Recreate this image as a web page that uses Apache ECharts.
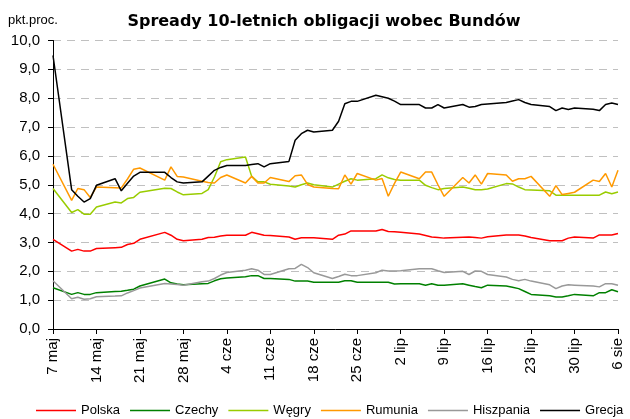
<!DOCTYPE html>
<html lang="pl">
<head>
    <meta charset="UTF-8">
    <title>Spready 10-letnich obligacji wobec Bundów</title>
    <script src="https://cdn.jsdelivr.net/npm/echarts@6/dist/echarts.min.js"></script>
    <style type="text/css">
        body{
            margin: 0px;
            padding: 0px;
            background: #fff;
        }
        #chart{
            width: 630px;
            height: 419px;
        }
    </style>
</head>
<body>
<div id="chart"></div>
<script type="text/javascript">
    // miesiace do podpisow osi (dni kalendarzowe od 7 maja)
    var monthNames = ['sty', 'lut', 'mar', 'kwi', 'maj', 'cze', 'lip', 'sie', 'wrz', 'paź', 'lis', 'gru'];
    var startDate = [2012, 4, 7];
    var dayCount = 92;

    // dni notowan (numer dnia od 7 maja)
    var days = [0, 3, 4, 5, 6, 7, 10, 11, 12, 13, 14, 18, 19, 20, 21, 24, 25, 26, 27, 28,
        31, 32, 33, 34, 35, 38, 39, 40, 41, 42, 45, 46, 47, 48, 49, 52, 53, 54, 55, 56,
        59, 60, 61, 62, 63, 66, 67, 68, 69, 70, 73, 74, 75, 76, 77, 80, 81, 82, 83, 84,
        87, 88, 89, 90, 91];

    var polska = [3.11, 2.70, 2.76, 2.70, 2.70, 2.79, 2.82, 2.83, 2.93, 2.97, 3.11, 3.35, 3.25, 3.11, 3.06, 3.11, 3.17, 3.18, 3.22, 3.25,
        3.25, 3.35, 3.30, 3.25, 3.24, 3.19, 3.11, 3.16, 3.16, 3.16, 3.11, 3.25, 3.29, 3.40, 3.40, 3.40, 3.45, 3.38, 3.37, 3.35,
        3.29, 3.24, 3.19, 3.17, 3.15, 3.18, 3.19, 3.17, 3.15, 3.20, 3.26, 3.26, 3.26, 3.22, 3.17, 3.06, 3.06, 3.06, 3.15, 3.19,
        3.15, 3.26, 3.26, 3.26, 3.31];
    var czechy = [1.43, 1.20, 1.26, 1.20, 1.20, 1.26, 1.30, 1.31, 1.34, 1.38, 1.49, 1.73, 1.60, 1.56, 1.53, 1.57, 1.58, 1.67, 1.74, 1.77,
        1.81, 1.85, 1.85, 1.75, 1.75, 1.72, 1.66, 1.66, 1.66, 1.62, 1.62, 1.62, 1.67, 1.67, 1.62, 1.62, 1.62, 1.62, 1.56, 1.57,
        1.57, 1.52, 1.57, 1.52, 1.52, 1.57, 1.52, 1.47, 1.43, 1.52, 1.49, 1.45, 1.40, 1.30, 1.20, 1.15, 1.11, 1.11, 1.15, 1.20,
        1.15, 1.26, 1.26, 1.36, 1.29];
    var wegry = [4.87, 4.04, 4.14, 3.98, 3.98, 4.23, 4.40, 4.37, 4.52, 4.56, 4.74, 4.88, 4.87, 4.75, 4.65, 4.70, 4.83, 5.27, 5.80, 5.87,
        5.96, 5.29, 5.10, 5.10, 5.02, 4.96, 4.92, 5.00, 5.06, 5.00, 4.92, 5.02, 5.12, 5.21, 5.16, 5.21, 5.34, 5.24, 5.18, 5.16,
        5.16, 4.98, 4.90, 4.83, 4.87, 4.92, 4.88, 4.83, 4.83, 4.85, 5.04, 5.03, 4.92, 4.83, 4.82, 4.79, 4.64, 4.64, 4.64, 4.64,
        4.64, 4.64, 4.75, 4.69, 4.75];
    var rumunia = [5.71, 4.46, 4.87, 4.83, 4.56, 4.92, 4.90, 4.89, 5.20, 5.54, 5.58, 5.16, 5.62, 5.29, 5.27, 5.12, 5.08, 5.06, 5.25, 5.34,
        5.06, 5.29, 5.06, 5.06, 5.25, 5.11, 5.31, 5.34, 5.01, 4.92, 4.87, 4.86, 5.34, 5.02, 5.39, 5.16, 5.22, 4.60, 5.05, 5.44,
        5.21, 5.44, 5.44, 5.00, 4.60, 5.25, 5.06, 5.34, 5.02, 5.39, 5.34, 5.12, 5.21, 5.21, 5.29, 4.60, 4.97, 4.66, 4.70, 4.74,
        5.16, 5.11, 5.39, 4.92, 5.50];
    var hiszpania = [1.67, 1.05, 1.10, 1.03, 1.05, 1.12, 1.14, 1.15, 1.25, 1.33, 1.42, 1.58, 1.56, 1.54, 1.52, 1.64, 1.66, 1.75, 1.87, 1.96,
        2.04, 2.09, 2.04, 1.89, 1.89, 2.09, 2.10, 2.24, 2.13, 1.95, 1.75, 1.82, 1.90, 1.85, 1.85, 1.95, 2.04, 2.01, 2.01, 2.02,
        2.09, 2.09, 2.09, 2.02, 1.96, 2.00, 1.89, 2.01, 2.00, 1.89, 1.80, 1.72, 1.67, 1.72, 1.66, 1.53, 1.40, 1.49, 1.53, 1.52,
        1.49, 1.46, 1.57, 1.57, 1.52];
    var grecja = [9.48, 4.83, 4.60, 4.40, 4.52, 4.98, 5.21, 4.79, 5.05, 5.30, 5.43, 5.43, 5.25, 5.10, 5.06, 5.10, 5.30, 5.50, 5.60, 5.67,
        5.67, 5.70, 5.73, 5.62, 5.73, 5.81, 6.54, 6.77, 6.89, 6.83, 6.89, 7.20, 7.81, 7.89, 7.89, 8.10, 8.05, 8.00, 7.90, 7.78,
        7.78, 7.66, 7.66, 7.78, 7.66, 7.78, 7.69, 7.71, 7.78, 7.80, 7.85, 7.90, 7.95, 7.85, 7.78, 7.71, 7.57, 7.66, 7.61, 7.66,
        7.62, 7.57, 7.78, 7.83, 7.78];

    var seriesNames = ['Polska', 'Czechy', 'Węgry', 'Rumunia', 'Hiszpania', 'Grecja'];
    var seriesValues = [polska, czechy, wegry, rumunia, hiszpania, grecja];
    var colors = ['#ff0000', '#008000', '#99cc00', '#ff9900', '#999999', '#000000'];

    // podpisy kategorii - kazdy dzien kalendarzowy
    var dayLabels = [];
    for (var i = 0; i < dayCount; i++) {
        var dt = new Date(startDate[0], startDate[1], startDate[2] + i);
        dayLabels.push(dt.getDate() + ' ' + monthNames[dt.getMonth()]);
    }

    var font = 'Liberation Sans, Arial, sans-serif';

    var series = seriesNames.map(function (name, k) {
        return {
            name: name,
            type: 'line',
            data: days.map(function (d, i) { return [d, seriesValues[k][i]]; }),
            showSymbol: false,
            symbol: 'none',
            connectNulls: true,
            lineStyle: {width: 1.5, color: colors[k]},
            itemStyle: {color: colors[k]},
            emphasis: {disabled: true},
            animation: false
        };
    });

    var myChart = echarts.init(document.getElementById('chart'));
    myChart.setOption({
        animation: false,
        color: colors,
        title: {
            text: 'Spready 10-letnich obligacji wobec Bundów',
            left: 319,
            textAlign: 'center',
            top: 9,
            textStyle: {fontFamily: 'DejaVu Sans, sans-serif', fontSize: 16, fontWeight: 'bold', color: '#000'}
        },
        graphic: [{
            type: 'text',
            left: 8,
            top: 14,
            style: {text: 'pkt.proc.', font: '13px ' + font, fill: '#000'}
        }],
        legend: {
            bottom: 2,
            left: 36,
            width: 594,
            padding: 0,
            icon: 'rect',
            itemWidth: 40,
            itemHeight: 1.5,
            itemGap: 10,
            textStyle: {fontFamily: font, fontSize: 13, color: '#000'},
            data: seriesNames
        },
        grid: {
            left: 53,
            right: 12,
            top: 40.5,
            bottom: 90,
            outerBoundsMode: 'none'
        },
        xAxis: {
            type: 'category',
            boundaryGap: false,
            data: dayLabels,
            axisLine: {lineStyle: {color: '#000', width: 1}},
            axisTick: {interval: 6, length: 5, lineStyle: {color: '#000'}},
            axisLabel: {
                interval: 6,
                rotate: 90,
                margin: 9,
                fontFamily: font,
                fontSize: 15,
                color: '#000'
            },
            splitLine: {show: false}
        },
        yAxis: {
            type: 'value',
            min: 0,
            max: 10,
            interval: 1,
            axisLine: {show: true, lineStyle: {color: '#000', width: 1}},
            axisTick: {show: true, length: 5, lineStyle: {color: '#000'}},
            axisLabel: {
                margin: 13,
                fontFamily: font,
                fontSize: 15,
                color: '#000',
                formatter: function (v) { return v.toFixed(1).replace('.', ','); }
            },
            splitLine: {lineStyle: {color: '#c0c0c0', type: [8, 6], width: 1}}
        },
        series: series
    });
</script>
</body>
</html>
